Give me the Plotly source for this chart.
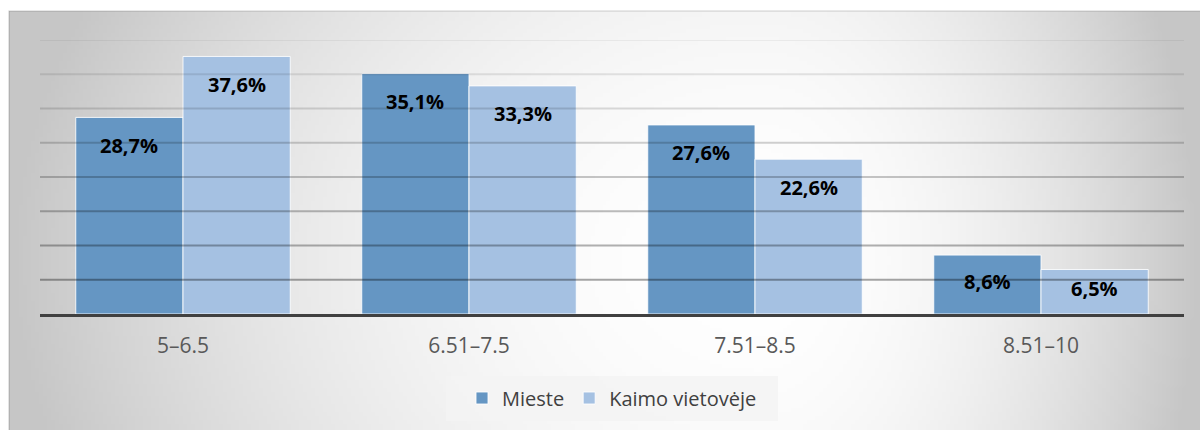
import base64
import struct
import zlib

import numpy as np
import plotly.graph_objects as go

# ---------------- data ----------------
categories = ["5–6.5", "6.51–7.5", "7.51–8.5", "8.51–10"]
series_names = ["Mieste", "Kaimo vietovėje"]
mieste = [28.7, 35.1, 27.6, 8.6]
kaimo = [37.6, 33.3, 22.6, 6.5]
y_max = 40
grid_step = 5

# ---------------- layout constants ----------------
W, H = 1200, 430
M_L, M_R, M_T, M_B = 40, 16, 40, 116
PW = W - M_L - M_R
PH = H - M_T - M_B
BARGAP = 0.25
COLORS = ["#6596c3", "#a5c1e2"]
FONT = "Open Sans"

px_per_unit = PH / y_max
cat_w = PW / len(categories)
bar_w = cat_w * (1 - BARGAP) / 2


def paper_x(px):
    return (px - M_L) / PW


def paper_y(py):
    return (M_T + PH - py) / PH


# ---------------- background gradient image ----------------
def make_png(arr):
    h, w, _ = arr.shape
    raw = b"".join(b"\x00" + arr[r].tobytes() for r in range(h))

    def chunk(tag, data):
        c = struct.pack(">I", len(data)) + tag + data
        return c + struct.pack(">I", zlib.crc32(tag + data) & 0xFFFFFFFF)

    return (b"\x89PNG\r\n\x1a\n" + chunk(b"IHDR", struct.pack(">IIBBBBB", w, h, 8, 2, 0, 0, 0))
            + chunk(b"IDAT", zlib.compress(raw, 9)) + chunk(b"IEND", b""))


BG_X0, BG_Y0, BG_X1, BG_Y1 = 9, 11, 1200, 430
gw, gh = 298, 105
xs = BG_X0 + (np.arange(gw) + 0.5) * (BG_X1 - BG_X0) / gw
ys = BG_Y0 + (np.arange(gh) + 0.5) * (BG_Y1 - BG_Y0) / gh
XX, YY = np.meshgrid(xs, ys)
cx, cy = 760, 260
dx = np.where(XX < cx, (XX - cx) / (cx - BG_X0), (XX - cx) / (BG_X1 - cx))
dy = (YY - cy) / 600
r2 = np.clip(dx ** 2 + dy ** 2, 0, 1)
val = (255 - 57 * r2).astype(np.uint8)
img = np.stack([val, val, val], axis=-1)
src = "data:image/png;base64," + base64.b64encode(make_png(img)).decode()

# ---------------- figure ----------------
fig = go.Figure()
for name, vals, col in zip(series_names, [mieste, kaimo], COLORS):
    fig.add_trace(go.Bar(
        name=name, x=categories, y=vals,
        marker=dict(color=col, line=dict(color="rgba(255,255,255,0.85)", width=1)),
        hoverinfo="skip",
    ))

annotations = []
for si, vals in enumerate([mieste, kaimo]):
    shift = (-0.5 if si == 0 else 0.5) * bar_w
    for c, v in zip(categories, vals):
        hpx = v * px_per_unit
        down = min(28, hpx / 2 - 3)
        annotations.append(dict(
            x=c, y=v, xref="x", yref="y", xshift=shift, yshift=-down,
            text=f"{v:.1f}%".replace(".", ","), showarrow=False,
            xanchor="center", yanchor="middle",
            font=dict(family=FONT, size=20, color="#000000", weight="bold"),
        ))

shapes = []
# chart area frame
shapes.append(dict(type="rect", xref="paper", yref="paper",
                   x0=paper_x(BG_X0), x1=paper_x(BG_X1 + 2), y0=paper_y(BG_Y1 + 2), y1=paper_y(BG_Y0),
                   line=dict(color="rgba(0,0,0,0.18)", width=1.2), fillcolor="rgba(0,0,0,0)", layer="below"))
# gridlines (drawn above the bars, translucent)
for g in range(grid_step, y_max + 1, grid_step):
    a = 0.05 + 0.30 * (y_max - g) / (y_max - grid_step)
    shapes.append(dict(type="line", xref="paper", yref="y", x0=0, x1=1, y0=g, y1=g,
                       line=dict(color=f"rgba(0,0,0,{a:.3f})", width=1.8), layer="above"))
# legend box
shapes.append(dict(type="rect", xref="paper", yref="paper",
                   x0=paper_x(446), x1=paper_x(778), y0=paper_y(421), y1=paper_y(376),
                   line=dict(width=0), fillcolor="rgba(243,243,243,0.85)", layer="below"))

fig.update_layout(
    width=W, height=H,
    margin=dict(l=M_L, r=M_R, t=M_T, b=M_B, pad=0),
    paper_bgcolor="#ffffff", plot_bgcolor="rgba(0,0,0,0)",
    barmode="group", bargap=BARGAP, bargroupgap=0,
    font=dict(family=FONT, color="#595959"),
    images=[dict(source=src, xref="paper", yref="paper",
                 x=paper_x(BG_X0), y=paper_y(BG_Y0),
                 sizex=(BG_X1 - BG_X0) / PW, sizey=(BG_Y1 - BG_Y0) / PH,
                 sizing="stretch", xanchor="left", yanchor="top", layer="below")],
    xaxis=dict(showline=True, linecolor="#404040", linewidth=3, showgrid=False,
               ticks="", tickfont=dict(family=FONT, size=21, color="#595959"),
               ticklabelstandoff=11, fixedrange=True),
    yaxis=dict(range=[0, y_max], showgrid=False, zeroline=False, showticklabels=False,
               showline=False, fixedrange=True),
    legend=dict(orientation="h", x=0.5, xanchor="center", y=paper_y(398), yanchor="middle",
                bgcolor="rgba(0,0,0,0)", font=dict(family=FONT, size=20, color="#404040"),
                traceorder="normal"),
    annotations=annotations, shapes=shapes,
)

fig.write_html("out.html", config={"displayModeBar": False},
               post_script="document.body.style.margin='0';document.body.style.overflow='hidden';")
